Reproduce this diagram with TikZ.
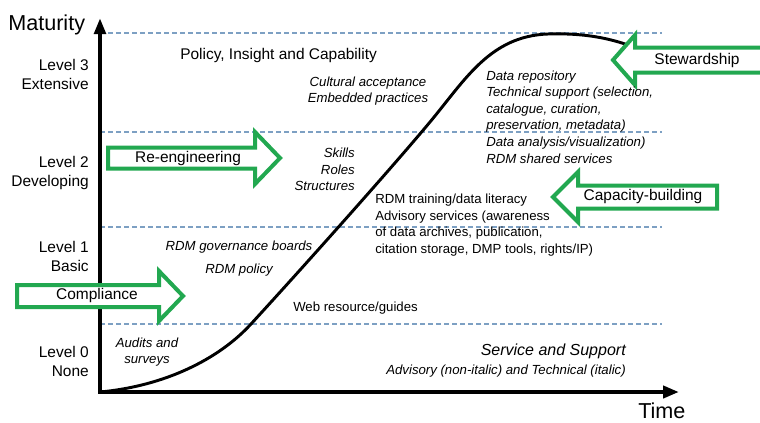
\documentclass[tikz,border=0pt]{standalone}
\usepackage{fontspec}
\setmainfont{Liberation Sans}
\usetikzlibrary{arrows.meta}
\definecolor{bgreen}{RGB}{34,168,80}
\definecolor{dashblue}{RGB}{125,160,195}
\begin{document}
\begin{tikzpicture}[x=0.75pt,y=-0.75pt,
  lbl/.style={inner sep=0pt, font=\fontsize{11.6}{14.25}\selectfont},
  big/.style={inner sep=0pt, font=\fontsize{16.2}{19}\selectfont},
  small/.style={inner sep=0pt, font=\fontsize{9.9}{12.4}\selectfont},
  smallit/.style={inner sep=0pt, font=\fontsize{9.9}{12.4}\selectfont\itshape},
  levelline/.style={dashblue, line width=1.5pt, dash pattern=on 3.8pt off 2.2pt},
  blockarrow/.style={draw=bgreen, line width=3pt, line join=miter, fill=white},
  axisline/.style={line width=3pt, line join=miter, {Triangle[length=12pt,width=8.5pt]}-{Triangle[length=12pt,width=9pt]}},
  curveline/.style={line width=2.2pt}
]
\useasboundingbox (0,0) rectangle (760,422);

% level lines
\coordinate (l3a) at (100,33);  \coordinate (l3b) at (662,33);
\coordinate (l2a) at (100,132); \coordinate (l2b) at (662,132);
\coordinate (l1a) at (100,227); \coordinate (l1b) at (662,227);
\coordinate (l0a) at (100,324); \coordinate (l0b) at (662,324);
\draw[levelline] (l3a) -- (l3b);
\draw[levelline] (l2a) -- (l2b);
\draw[levelline] (l1a) -- (l1b);
\draw[levelline] (l0a) -- (l0b);

% maturity curve
\coordinate (c0) at (100,392);
\coordinate (c1) at (251,324);
\coordinate (c2) at (430,122);
\coordinate (c3) at (548,34);
\coordinate (c4) at (628,45);
\draw[curveline] (c0) .. controls (165,386) and (219,359) .. (c1)
  .. controls (296,275) and (390,170) .. (c2)
  .. controls (465,80) and (490,36) .. (c3)
  .. controls (580,33) and (605,37) .. (c4);

% block arrows
\draw[blockarrow] (108,147.5) -- (255,147.5) -- (255,132) -- (280,158) -- (255,184) -- (255,168.5) -- (108,168.5) -- cycle;
\draw[blockarrow] (762,47.5) -- (635,47.5) -- (635,35) -- (613,60) -- (635,85) -- (635,72.5) -- (762,72.5);
\draw[blockarrow] (717,185.5) -- (578,185.5) -- (578,172) -- (553,197) -- (578,222) -- (578,208.5) -- (717,208.5) -- cycle;

% axes
\coordinate (ytip) at (100,18);
\coordinate (xtip) at (679,392);
\draw[axisline] (ytip) -- (c0) -- (xtip);

% compliance arrow over the axis
\draw[blockarrow] (17,285) -- (159,285) -- (159,271) -- (183,296) -- (159,321) -- (159,307) -- (17,307) -- cycle;

% axis labels
\node[big, anchor=west] (maturity) at (8,25) {Maturity};
\node[big, anchor=west] (time) at (638,411) {Time};
\node[lbl, anchor=east, align=right] (lev3) at (89,74) {Level 3\\Extensive};
\node[lbl, anchor=east, align=right] (lev2) at (89,173) {Level 2\\Developing};
\node[lbl, anchor=east, align=right] (lev1) at (89,256.5) {Level 1\\Basic};
\node[lbl, anchor=east, align=right] (lev0) at (89,361) {Level 0\\None};

% arrow labels
\node[lbl] (reeng) at (188,158) {Re-engineering};
\node[lbl] (compl) at (97,295) {Compliance};
\node[lbl] (stew) at (697,60) {Stewardship};
\node[lbl] (capac) at (643,196) {Capacity-building};

% content texts
\node[lbl, anchor=west] (policy) at (180,55) {Policy, Insight and Capability};
\node[smallit, align=center] (culture) at (368,91) {Cultural acceptance\\Embedded practices};
\node[smallit, align=right, anchor=east] (skills) at (355,169.5) {Skills\\Roles\\Structures};
\node[smallit, align=left, anchor=west] (repo) at (486,117) {Data repository\\Technical support (selection,\\catalogue, curation,\\preservation, metadata)\\Data analysis/visualization)\\RDM shared services};
\node[small, align=left, anchor=west] (training) at (375,225) {RDM training/data literacy\\Advisory services (awareness\\of data archives, publication,\\citation storage, DMP tools, rights/IP)};
\node[smallit] (govern) at (239,247) {RDM governance boards};
\node[smallit] (rdmpol) at (239,270) {RDM policy};
\node[small, anchor=west] (web) at (293,308) {Web resource/guides};
\node[smallit, align=center] (audits) at (147,352) {Audits and\\surveys};
\node[inner sep=0pt, font=\fontsize{12}{14}\selectfont\itshape, anchor=east] (service) at (626,351) {Service and Support};
\node[smallit, anchor=east] (advisory) at (626,371) {Advisory (non-italic) and Technical (italic)};
\end{tikzpicture}
\end{document}
